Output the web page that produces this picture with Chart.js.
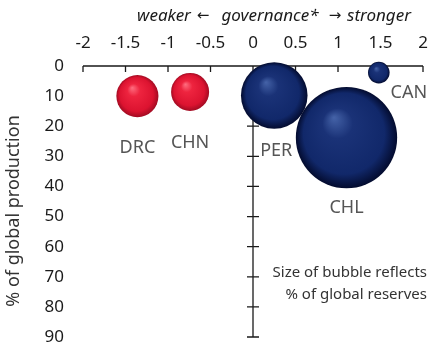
<!DOCTYPE html>
<html>
<head>
<meta charset="utf-8">
<script src="https://cdn.jsdelivr.net/npm/chart.js@4"></script>
<style>
  html, body { margin: 0; padding: 0; background: #ffffff; }
  canvas { display: block; }
</style>
</head>
<body>
<canvas id="chart" width="430" height="349"></canvas>
<script>
// Copper producers: governance score vs share of global mine production,
// bubble area proportional to share of global reserves (%).
const countries       = ['DRC', 'CHN', 'CHL', 'PER', 'CAN'];
const governance      = [-1.36, -0.74, 1.10, 0.25, 1.48];
const productionShare = [10.0, 8.6, 23.8, 9.8, 2.2];
const reserveShare    = [3.8, 3.1, 22.0, 9.5, 1.0];

const xTickValues = [-2, -1.5, -1, -0.5, 0, 0.5, 1, 1.5, 2];
const yTickValues = [0, 10, 20, 30, 40, 50, 60, 70, 80, 90];

// Label placement relative to each bubble centre (px)
const labelOffsets = {
  DRC: [0, 52], CHN: [0, 51], CHL: [0, 70], PER: [2, 55], CAN: [30, 20]
};

const FONT = "'Noto Sans', 'Open Sans', sans-serif";
const bubbleScale = 10.8; // px of radius per sqrt(% of reserves)

const points = countries.map((c, i) => ({
  x: governance[i],
  y: productionShare[i],
  r: bubbleScale * Math.sqrt(reserveShare[i]),
  label: c
}));

const palettes = {
  weak:   ['#ff6e80', '#ee243f', '#dc1330', '#a20b22'],
  strong: ['#4563a8', '#1a3277', '#11286a', '#030b2e']
};

function sphereFill(ctx) {
  const raw = ctx.raw;
  if (ctx.type !== 'data' || !raw) return '#11286a';
  const p = raw.x < 0 ? palettes.weak : palettes.strong;
  const chart = ctx.chart;
  const xs = chart.scales.x, ys = chart.scales.y;
  if (!xs || !ys) return p[2];
  const cx = xs.getPixelForValue(raw.x);
  const cy = ys.getPixelForValue(raw.y);
  const r = raw.r;
  if (![cx, cy, r].every(Number.isFinite)) return p[2];
  const g = chart.ctx.createRadialGradient(cx - r * 0.25, cy - r * 0.4, 0, cx, cy, r);
  g.addColorStop(0, p[0]);
  g.addColorStop(0.3, p[1]);
  g.addColorStop(0.8, p[2]);
  g.addColorStop(1, p[3]);
  return g;
}

// Axis lines: horizontal axis along the top, vertical axis through zero
const crossAxes = {
  id: 'crossAxes',
  beforeDatasetsDraw(chart) {
    const { ctx, scales: { x, y } } = chart;
    const top = y.getPixelForValue(0);
    const x0 = x.getPixelForValue(0);
    ctx.save();
    ctx.strokeStyle = '#1a1a1a';
    ctx.lineWidth = 1.3;
    ctx.beginPath();
    ctx.moveTo(x.getPixelForValue(-2), top);
    ctx.lineTo(x.getPixelForValue(2), top);
    xTickValues.forEach(v => {
      const px = x.getPixelForValue(v);
      ctx.moveTo(px, top);
      ctx.lineTo(px, top + 6);
    });
    ctx.moveTo(x0, top);
    ctx.lineTo(x0, y.getPixelForValue(90));
    yTickValues.slice(1).forEach(v => {
      const py = y.getPixelForValue(v);
      ctx.moveTo(x0 - 6, py);
      ctx.lineTo(x0 + 6, py);
    });
    ctx.stroke();
    ctx.restore();
  }
};

// Country names, axis headings and note
const annotations = {
  id: 'annotations',
  afterDatasetsDraw(chart) {
    const { ctx, scales: { x, y } } = chart;
    ctx.save();
    ctx.fillStyle = '#555555';
    ctx.font = `18px ${FONT}`;
    ctx.textAlign = 'center';
    ctx.textBaseline = 'middle';
    points.forEach(p => {
      const [dx, dy] = labelOffsets[p.label];
      ctx.fillText(p.label, x.getPixelForValue(p.x) + dx, y.getPixelForValue(p.y) + dy);
    });

    // heading above the governance axis
    ctx.fillStyle = '#1a1a1a';
    ctx.font = `italic 17px ${FONT}`;
    ctx.fillText('weaker', 164, 16);
    ctx.fillText('governance*', 270, 16);
    ctx.fillText('stronger', 379, 16);
    ctx.font = "15px 'DejaVu Sans', sans-serif";
    ctx.fillText('\u2190', 203, 16);
    ctx.fillText('\u2192', 335, 16);

    // vertical axis heading
    ctx.save();
    ctx.translate(14, 211);
    ctx.rotate(-Math.PI / 2);
    ctx.fillStyle = '#333333';
    ctx.font = `18px ${FONT}`;
    ctx.fillText('% of global production', 0, 0);
    ctx.restore();

    ctx.fillStyle = '#333333';
    ctx.font = `15px ${FONT}`;
    ctx.textAlign = 'right';
    ctx.fillText('Size of bubble reflects', 427, 273);
    ctx.fillText('% of global reserves', 427, 295);
    ctx.restore();
  }
};

const chart = new Chart(document.getElementById('chart'), {
  type: 'bubble',
  data: {
    datasets: [{
      data: points,
      backgroundColor: sphereFill,
      borderWidth: 0,
      hoverBorderWidth: 0,
      clip: false
    }]
  },
  options: {
    responsive: false,
    devicePixelRatio: 1,
    animation: false,
    events: [],
    layout: { autoPadding: false, padding: { top: 0, right: 7, bottom: 12, left: 0 } },
    plugins: { legend: { display: false }, tooltip: { enabled: false } },
    scales: {
      x: {
        type: 'linear',
        position: 'top',
        min: -2, max: 2,
        afterBuildTicks: s => { s.ticks = xTickValues.map(v => ({ value: v })); },
        ticks: {
          color: '#1a1a1a', font: { family: FONT, size: 17 }, padding: 13,
          maxRotation: 0, autoSkip: false, callback: v => String(v)
        },
        grid: { display: false, drawTicks: false },
        border: { display: false },
        afterFit: s => { s.height = 66; s.paddingLeft = 0; s.paddingRight = 0; }
      },
      y: {
        type: 'linear',
        position: 'left',
        reverse: true,
        min: 0, max: 90,
        afterBuildTicks: s => { s.ticks = yTickValues.map(v => ({ value: v })); },
        ticks: {
          color: '#1a1a1a', font: { family: FONT, size: 17 }, padding: 19,
          autoSkip: false, callback: v => String(v)
        },
        grid: { display: false, drawTicks: false },
        border: { display: false },
        title: { display: false },
        afterFit: s => { s.width = 83; s.paddingTop = 0; s.paddingBottom = 0; }
      }
    }
  },
  plugins: [crossAxes, annotations]
});
chart.update('none');
</script>
</body>
</html>
